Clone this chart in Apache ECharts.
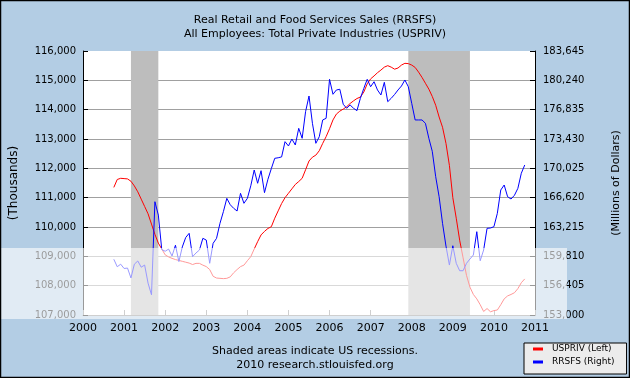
<!DOCTYPE html>
<html>
<head>
<meta charset="utf-8">
<script src="https://cdn.jsdelivr.net/npm/echarts@6/dist/echarts.min.js"></script>
<style>
html,body{margin:0;padding:0;background:#b3cde4;}
#chart{width:630px;height:378px;}
</style>
</head>
<body>
<div id="chart"></div>
<script>
// Monthly series, first month Oct 2000, last month Oct 2010
const firstYear = 2000, firstMonth = 10;

// USPRIV (left axis, thousands)
const usprivValues = [
  111350, 111620, 111660,
  111650, 111640, 111560, 111400, 111200, 110950, 110700, 110450, 110100, 109750, 109450, 109250,
  109050, 108980, 108930, 108890, 108860, 108830, 108800, 108770, 108720, 108760, 108760, 108700,
  108650, 108550, 108320, 108260, 108250, 108240, 108250, 108300, 108440, 108550, 108650, 108700,
  108850, 108990, 109250, 109500, 109730, 109850, 109950, 110010, 110300, 110550, 110800, 111000,
  111150, 111300, 111450, 111550, 111660, 111950, 112250, 112380, 112450, 112600, 112850, 113080,
  113350, 113650, 113850, 113950, 114020, 114100, 114210, 114300, 114380, 114430, 114600, 114880,
  115050, 115150, 115260, 115350, 115450, 115500, 115450, 115380, 115420, 115520, 115580, 115570,
  115520, 115440, 115280, 115100, 114900, 114700, 114450, 114150, 113750, 113400, 112850, 112100,
  111000, 110300, 109550, 108950, 108350, 107950, 107700, 107550, 107350, 107120, 107220, 107110,
  107150, 107170, 107350, 107550, 107650, 107700, 107760, 107900, 108100, 108230
];

// RRSFS (right axis, millions of dollars)
const rrsfsValues = [
  159470, 158600, 158900,
  158400, 158450, 157300, 158900, 159270, 158550, 158800, 156700, 155350, 166150, 164600, 160600,
  160400, 160650, 159850, 161100, 159200, 160900, 162000, 162480, 159770, 160200, 160545, 161900,
  161700, 159000, 161320, 161900, 163640, 165000, 166540, 165800, 165385, 165070, 167125, 165965,
  166540, 168000, 169830, 168290, 169750, 167200, 168750, 170000, 171190, 171250, 171350, 173120,
  172620, 173430, 172735, 174670, 173510, 176600, 178420, 175250, 172930, 173700, 175640, 175830,
  180360, 178620, 179120, 179200, 177460, 177000, 177380, 177000, 176720, 178150, 179300, 180360,
  179500, 180080, 179120, 178540, 180010, 177760, 178150, 178600, 179120, 179580, 180280, 179500,
  177570, 175640, 175640, 175640, 175250, 173510, 172000, 169055, 166730, 163640, 161000, 158800,
  161040, 159000, 158140, 158140, 159000, 159500, 159965, 162670, 159300, 160545, 163060, 163100,
  163250, 164800, 167510, 168090, 166730, 166465, 166900, 167705, 169450, 170410
];

const xTicksRange = [2000, 2011];
const leftTicks = [107000, 116000, 1000];
const rightTicks = [153000, 156405, 159810, 163215, 166620, 170025, 173430, 176835, 180240, 183645];
// Recessions as [startYear, startMonth, endYear, endMonth]
const recessions = [[2001, 3, 2001, 11], [2007, 12, 2009, 6]];

const seriesNames = ['USPRIV (Left)', 'RRSFS (Right)'];

function monthToX(y, m) { return y + (m - 1) / 12; }
const xs = usprivValues.map((_, i) => {
  const t = (firstMonth - 1) + i;
  return monthToX(firstYear + Math.floor(t / 12), (t % 12) + 1);
});

const fmt = v => Number(v).toLocaleString('en-US');
const FONT = 'DejaVu Sans';

const chart = echarts.init(document.getElementById('chart'), null, {renderer: 'canvas'});
chart.setOption({
  animation: false,
  backgroundColor: '#b3cde4',
  textStyle: {fontFamily: FONT},
  title: {
    text: 'Real Retail and Food Services Sales (RRSFS)\nAll Employees: Total Private Industries (USPRIV)',
    left: 'center',
    top: 8,
    textStyle: {fontFamily: FONT, fontSize: 11, fontWeight: 'normal', color: '#000', lineHeight: 14}
  },
  legend: {
    orient: 'vertical',
    left: 524,
    top: 343,
    icon: 'rect',
    itemWidth: 10,
    itemHeight: 3,
    itemGap: 3,
    padding: [1, 12, 7, 9],
    backgroundColor: '#ececec',
    borderColor: '#000',
    borderWidth: 1,
    textStyle: {fontFamily: FONT, fontSize: 9, color: '#000', lineHeight: 10, padding: [0, 0, 0, 4]},
    data: seriesNames
  },
  grid: {left: 81, right: 95, top: 51, bottom: 63, show: true, backgroundColor: '#fff', borderWidth: 0},
  xAxis: {
    type: 'value',
    min: xTicksRange[0],
    max: xTicksRange[1],
    interval: 1,
    axisLine: {show: true, lineStyle: {color: '#888', width: 1}},
    axisTick: {show: true, inside: true, length: 5, lineStyle: {color: '#888'}},
    axisLabel: {formatter: v => String(v), fontFamily: FONT, fontSize: 11, color: '#000', margin: 8, showMinLabel: true, showMaxLabel: true},
    splitLine: {show: false}
  },
  yAxis: [
    {
      type: 'value',
      position: 'left',
      min: leftTicks[0], max: leftTicks[1], interval: leftTicks[2],
      name: '(Thousands)',
      nameLocation: 'middle',
      nameGap: 63,
      nameRotate: 90,
      nameTextStyle: {fontFamily: FONT, fontSize: 12, color: '#000'},
      axisLine: {show: true, lineStyle: {color: '#000', width: 1}},
      axisTick: {show: true, inside: true, length: 5, lineStyle: {color: '#000'}},
      axisLabel: {formatter: fmt, fontFamily: FONT, fontSize: 10, color: '#000', margin: 7},
      splitLine: {show: true, showMinLine: false, showMaxLine: false, lineStyle: {color: '#a0a0a0', width: 1}}
    },
    {
      type: 'value',
      position: 'right',
      min: rightTicks[0], max: rightTicks[rightTicks.length - 1],
      name: '(Millions of Dollars)',
      nameLocation: 'middle',
      nameGap: 76,
      nameRotate: 90,
      nameTextStyle: {fontFamily: FONT, fontSize: 11, color: '#000'},
      axisLine: {show: true, lineStyle: {color: '#000', width: 1}},
      axisTick: {show: true, inside: true, length: 5, lineStyle: {color: '#000'}, customValues: rightTicks},
      axisLabel: {formatter: fmt, fontFamily: FONT, fontSize: 10, color: '#000', margin: 8, customValues: rightTicks},
      splitLine: {show: false}
    }
  ],
  series: [
    {
      name: 'recessions',
      type: 'line',
      data: [],
      z: 1,
      silent: true,
      markArea: {
        silent: true,
        itemStyle: {color: '#bdbdbd'},
        data: recessions.map(r => [{xAxis: monthToX(r[0], r[1])}, {xAxis: monthToX(r[2], r[3])}])
      }
    },
    {
      name: seriesNames[0],
      type: 'line',
      yAxisIndex: 0,
      data: usprivValues.map((v, i) => [xs[i], v]),
      showSymbol: false,
      symbol: 'none',
      color: '#ff0000',
      lineStyle: {color: '#ff0000', width: 1},
      z: 3
    },
    {
      name: seriesNames[1],
      type: 'line',
      yAxisIndex: 1,
      data: rrsfsValues.map((v, i) => [xs[i], v]),
      showSymbol: false,
      symbol: 'none',
      color: '#0000ff',
      lineStyle: {color: '#0000ff', width: 1},
      z: 3
    }
  ],
  graphic: [
    {
      type: 'text',
      left: 'center',
      top: 344,
      style: {
        text: 'Shaded areas indicate US recessions.\n2010 research.stlouisfed.org',
        font: '11px "DejaVu Sans"',
        fill: '#000',
        textAlign: 'center',
        lineHeight: 14
      }
    },
    {
      type: 'rect',
      shape: {x: 0, y: 248, width: 567, height: 71},
      style: {fill: 'rgba(255,255,255,0.6)'},
      silent: true,
      z: 100
    },
    {
      type: 'rect',
      shape: {x: 0.5, y: 0.5, width: 629, height: 377},
      style: {fill: 'none', stroke: '#000', lineWidth: 1.5},
      silent: true,
      z: 101
    }
  ]
});
</script>
</body>
</html>
